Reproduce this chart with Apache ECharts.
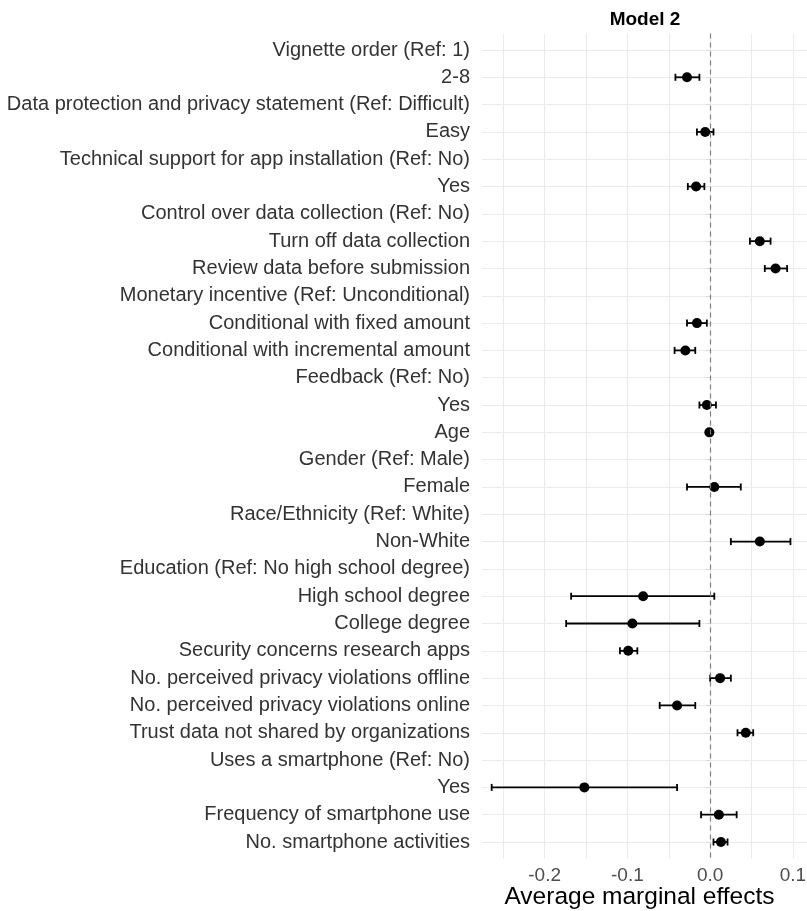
<!DOCTYPE html>
<html>
<head>
<meta charset="utf-8">
<script src="https://cdn.jsdelivr.net/npm/echarts@6/dist/echarts.min.js"></script>
<style>
  html, body { margin: 0; padding: 0; background: #fff; }
  #model2 { width: 807px; height: 911px; }
</style>
</head>
<body>
<div id="model2"></div>
<script>
// rows from top to bottom, header rows have no estimate
var labels = [
  'Vignette order (Ref: 1)', '2-8',
  'Data protection and privacy statement (Ref: Difficult)', 'Easy',
  'Technical support for app installation (Ref: No)', 'Yes',
  'Control over data collection (Ref: No)', 'Turn off data collection', 'Review data before submission',
  'Monetary incentive (Ref: Unconditional)', 'Conditional with fixed amount', 'Conditional with incremental amount',
  'Feedback (Ref: No)', 'Yes',
  'Age',
  'Gender (Ref: Male)', 'Female',
  'Race/Ethnicity (Ref: White)', 'Non-White',
  'Education (Ref: No high school degree)', 'High school degree', 'College degree',
  'Security concerns research apps',
  'No. perceived privacy violations offline', 'No. perceived privacy violations online',
  'Trust data not shared by organizations',
  'Uses a smartphone (Ref: No)', 'Yes',
  'Frequency of smartphone use', 'No. smartphone activities'
]
var estimate = [
  null, -0.028, null, -0.006, null, -0.017, null, 0.060, 0.079, null, -0.016, -0.030, null, -0.004,
  -0.001, null, 0.005, null, 0.060, null, -0.081, -0.094, -0.099, 0.012, -0.040, 0.043, null, -0.152,
  0.0105, 0.013
]
var lower = [
  null, -0.042, null, -0.016, null, -0.027, null, 0.048, 0.066, null, -0.028, -0.043, null, -0.013,
  -0.002, null, -0.028, null, 0.025, null, -0.168, -0.174, -0.109, 0.000, -0.061, 0.033, null, -0.264,
  -0.011, 0.004
]
var upper = [
  null, -0.013, null, 0.004, null, -0.007, null, 0.073, 0.093, null, -0.004, -0.018, null, 0.007,
  0.000, null, 0.037, null, 0.097, null, 0.005, -0.013, -0.088, 0.025, -0.018, 0.052, null, -0.040,
  0.032, 0.021
]
var xTicks = [-0.2, -0.1, 0.0, 0.1]
var xGrid = [-0.25, -0.2, -0.15, -0.1, -0.05, 0, 0.05, 0.1]

var rowIdx = labels.map(function (l, i) { return i })
var points = []
var bars = []
for (var i = 0; i < labels.length; i++) {
  if (estimate[i] === null) continue
  points.push([estimate[i], i])
  bars.push([i, lower[i], upper[i]])
}

var chart = echarts.init(document.getElementById('model2'))
var font = "'Liberation Sans', Arial, Helvetica, sans-serif"

var option = {
  animation: false,
  title: {
    text: 'Model 2',
    left: 640, top: 5,
    textAlign: 'center',
    textStyle: { fontFamily: font, fontSize: 19, fontWeight: 'bold', color: '#000' }
  },
  grid: { left: 482, right: 0, top: 33.6, bottom: 52.6, outerBoundsMode: 'none', containLabel: false },
  xAxis: {
    type: 'value',
    min: -0.2757, max: 0.117,
    axisLine: { show: false },
    axisTick: { show: false, customValues: xGrid },
    splitLine: { show: true, lineStyle: { color: '#ebebeb', width: 1 } },
    axisLabel: {
      customValues: xTicks,
      margin: 8,
      fontFamily: font, fontSize: 19, color: '#4d4d4d',
      formatter: function (v) { return v.toFixed(1) }
    },
    name: 'Average marginal effects',
    nameLocation: 'middle',
    nameMoveOverlap: false,
    nameGap: 26,
    nameTextStyle: { fontFamily: font, fontSize: 24.5, color: '#000', padding: [0, 10, 0, 0] }
  },
  yAxis: {
    type: 'value',
    inverse: true,
    min: -0.6, max: 29.6,
    axisLine: { show: false },
    axisTick: { show: true, customValues: rowIdx, length: 4, lineStyle: { color: '#d9d9d9' } },
    splitLine: { show: true, lineStyle: { color: '#ebebeb', width: 1 } },
    axisLabel: {
      customValues: rowIdx,
      margin: 12,
      fontFamily: font, fontSize: 20, color: '#333',
      formatter: function (v) { return labels[Math.round(v)] }
    }
  },
  series: [
    {
      type: 'custom',
      data: bars,
      encode: { x: [1, 2], y: 0 },
      renderItem: function (params, api) {
        var y = api.value(0)
        var a = api.coord([api.value(1), y])
        var b = api.coord([api.value(2), y])
        var h = 3.5
        var st = { stroke: '#000', lineWidth: 1.8 }
        return {
          type: 'group',
          children: [
            { type: 'line', shape: { x1: a[0], y1: a[1], x2: b[0], y2: b[1] }, style: st },
            { type: 'line', shape: { x1: a[0], y1: a[1] - h, x2: a[0], y2: a[1] + h }, style: st },
            { type: 'line', shape: { x1: b[0], y1: b[1] - h, x2: b[0], y2: b[1] + h }, style: st }
          ]
        }
      },
      z: 3
    },
    {
      type: 'scatter',
      data: points,
      symbol: 'circle',
      symbolSize: 10,
      itemStyle: { color: '#000', opacity: 1 },
      z: 4,
      markLine: {
        silent: true,
        symbol: 'none',
        label: { show: false },
        lineStyle: { color: '#808080', type: [5, 4], width: 1.2 },
        data: [{ xAxis: 0 }]
      }
    }
  ]
}

chart.setOption(option)
</script>
</body>
</html>
